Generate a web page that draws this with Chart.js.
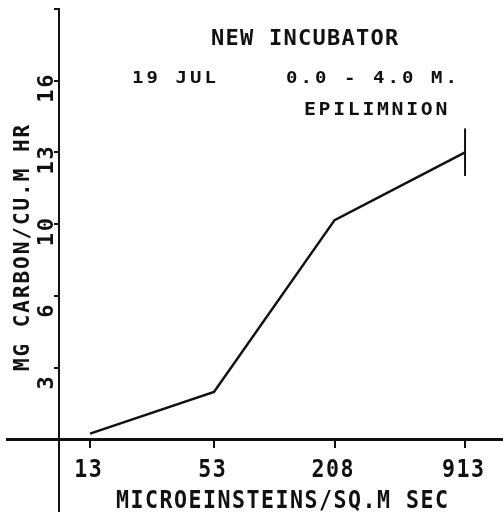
<!DOCTYPE html>
<html>
<head>
<meta charset="utf-8">
<title>New incubator – 19 Jul epilimnion</title>
<script src="https://cdn.jsdelivr.net/npm/chart.js@4/dist/chart.umd.min.js"></script>
<style>
  html, body { margin: 0; padding: 0; background: #fff; }
  canvas { display: block; }
</style>
</head>
<body>
<canvas id="chart" width="503" height="514"></canvas>
<script>
// light level (microeinsteins / sq.m sec) and uptake (mg carbon / cu.m hr)
const lightLevels = [13, 53, 208, 913];
const carbonRate = [0.25, 2.11, 9.78, 12.8];
const rateLow = [null, null, null, 11.75];
const rateHigh = [null, null, null, 13.87];
const xTickLabels = ["13", "53", "208", "913"];
const yTicks = [3.2, 6.4, 9.6, 12.8, 16, 19.2];
const yTickLabels = ["3", "6", "10", "13", "16", ""];

const INK = "#111";
const FONT = "DejaVu Sans Mono";

// fixed-pitch plotter lettering; sx stretches the glyphs sideways
function plotText(ctx, text, x, y, size, pitch, align, sx = 1) {
  ctx.save();
  ctx.font = `bold ${size}px "${FONT}"`;
  const adv = ctx.measureText("M").width * sx;
  let x0 = x;
  if (align === "center") x0 = x - ((text.length - 1) * pitch + adv) / 2;
  ctx.translate(x0, y);
  ctx.scale(sx, 1);
  ctx.letterSpacing = `${(pitch - adv) / sx}px`;
  ctx.fillStyle = INK;
  ctx.textBaseline = "alphabetic";
  ctx.textAlign = "left";
  ctx.fillText(text, 0, 0);
  ctx.restore();
}

function plotTextUp(ctx, text, x, y, size, pitch, align, sx) {
  ctx.save();
  ctx.translate(x, y);
  ctx.rotate(-Math.PI / 2);
  plotText(ctx, text, 0, 0, size, pitch, align, sx);
  ctx.restore();
}

const errorBars = {
  id: "errorBars",
  afterDatasetsDraw(chart) {
    const { ctx, scales: { x, y } } = chart;
    ctx.save();
    ctx.strokeStyle = INK;
    ctx.lineWidth = 2;
    lightLevels.forEach((v, i) => {
      if (rateLow[i] == null) return;
      const px = x.getPixelForValue(v);
      ctx.beginPath();
      ctx.moveTo(px, y.getPixelForValue(rateLow[i]));
      ctx.lineTo(px, y.getPixelForValue(rateHigh[i]));
      ctx.stroke();
    });
    ctx.restore();
  },
};

const lettering = {
  id: "lettering",
  afterDraw(chart) {
    const { ctx, scales: { x, y } } = chart;
    // titles
    plotText(ctx, "NEW INCUBATOR", 211, 45, 22, 14.5);
    plotText(ctx, "19 JUL", 132, 83, 16.5, 14.5, "left", 1.15);
    plotText(ctx, "0.0 - 4.0 M.", 286, 83, 16.5, 14.5, "left", 1.15);
    plotText(ctx, "EPILIMNION", 304, 115, 18, 14.6, "left", 1.1);

    // x tick labels and title
    lightLevels.forEach((v, i) => {
      plotText(ctx, xTickLabels[i], x.getPixelForValue(v) - 2, 477, 24, 14.5, "center", 0.9);
    });
    plotText(ctx, "MICROEINSTEINS/SQ.M SEC", 282, 508, 24, 14.5, "center", 0.9);

    // y tick labels and title, reading upward
    yTicks.forEach((v, i) => {
      if (!yTickLabels[i]) return;
      plotTextUp(ctx, yTickLabels[i], 53, y.getPixelForValue(v) + 22, 22, 15);
    });
    plotTextUp(ctx, "MG CARBON/CU.M HR", 29, 248, 21, 14.6, "center");
  },
};

new Chart(document.getElementById("chart"), {
  type: "line",
  data: {
    datasets: [{
      data: lightLevels.map((v, i) => ({ x: v, y: carbonRate[i] })),
      borderColor: INK,
      borderWidth: 2.5,
      pointRadius: 0,
      tension: 0,
    }],
  },
  options: {
    responsive: false,
    animation: false,
    layout: { padding: { left: 7, right: 0, top: 9, bottom: 3 } },
    plugins: { legend: { display: false }, tooltip: { enabled: false } },
    scales: {
      x: {
        type: "logarithmic",
        min: 5.07,
        max: 1404,
        position: { y: 0 },
        afterBuildTicks: (s) => { s.ticks = lightLevels.map((v) => ({ value: v })); },
        ticks: { display: false },
        grid: { drawOnChartArea: false, drawTicks: true, tickLength: 7, color: INK, lineWidth: 2 },
        border: { display: true, color: INK, width: 3 },
      },
      y: {
        min: -3.2,
        max: 19.2,
        position: { x: 9.18 },
        afterBuildTicks: (s) => { s.ticks = yTicks.map((v) => ({ value: v })); },
        ticks: { display: false },
        grid: { drawOnChartArea: false, drawTicks: true, tickLength: 4, color: INK, lineWidth: 2 },
        border: { display: true, color: INK, width: 2 },
      },
    },
  },
  plugins: [errorBars, lettering],
});
</script>
</body>
</html>
